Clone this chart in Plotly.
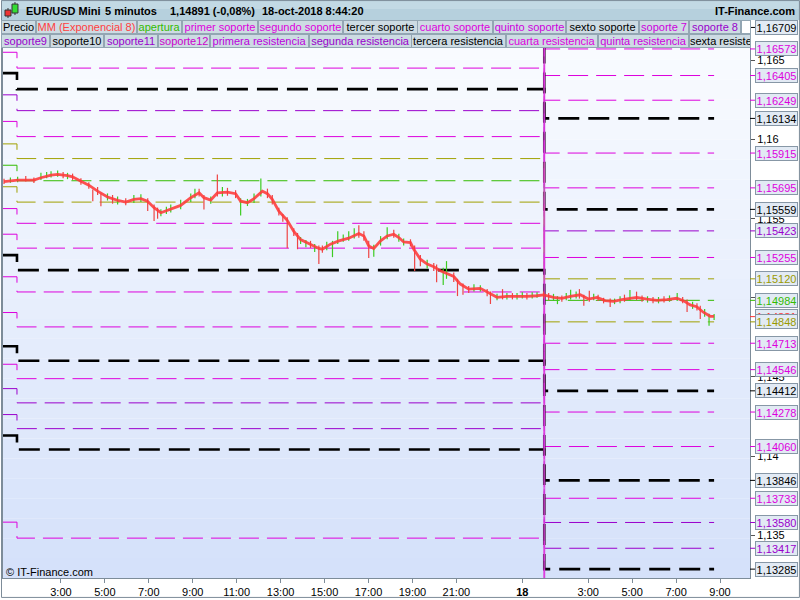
import plotly.graph_objects as go

# ------------------------------------------------------------------ data
# time axis: hours since 17-oct-2018 00:00
t_first = 0.36
t_last = 32.73
pivot_change = [1.0, 25.0]      # new daily levels start at 01:00
day_break = 25.0

level_colors = ['k', 'm', 'm', 'm', 'k', 'm', 'm', 'k', 'p', 'm', 'o', 'g',
                'o', 'm', 'm', 'k', 'm', 'm', 'k', 'm', 'p', 'p', 'k', 'm']
levels_prev = [1.17560, 1.17425, 1.17257, 1.17100, 1.16985, 1.16770, 1.16552, 1.16420,
               1.16283, 1.16115, 1.15973, 1.15838, 1.15702, 1.15564, 1.15402, 1.15270,
               1.15133, 1.14907, 1.14694, 1.14580, 1.14426, 1.14262, 1.14130, 1.13582]
levels_day1 = [1.17465, 1.17329, 1.17161, 1.17005, 1.16890, 1.16671, 1.16452, 1.16319,
               1.16183, 1.16019, 1.15880, 1.15740, 1.15605, 1.15471, 1.15314, 1.15175,
               1.15037, 1.14816, 1.14602, 1.14489, 1.14336, 1.14173, 1.14041, 1.13481]
levels_day2 = [1.16709, 1.16573, 1.16405, 1.16249, 1.16134, 1.15915, 1.15695, 1.15559,
               1.15423, 1.15255, 1.15120, 1.14984, 1.14848, 1.14713, 1.14546, 1.14412,
               1.14278, 1.14060, 1.13846, 1.13733, 1.13580, 1.13417, 1.13285, 1.13100]

ema_time = [0.41, 1.03, 1.77, 2.09, 2.55, 2.85, 3.30, 3.53, 3.91, 4.27, 4.67, 5.12, 5.58,
            5.95, 6.32, 6.64, 6.94, 7.24, 7.55, 8.00, 8.45, 8.91, 9.29, 9.51, 9.82, 10.12,
            10.58, 10.95, 11.18, 11.49, 11.79, 12.17, 12.40, 12.62, 12.92, 13.30, 13.60,
            13.91, 14.36, 14.74, 14.90, 15.27, 15.65, 16.10, 16.56, 16.79, 17.01, 17.24,
            17.55, 17.85, 18.15, 18.38, 18.60, 18.91, 19.06, 19.36, 19.67, 19.97, 20.27,
            20.58, 20.88, 21.18, 21.56, 22.09, 22.40, 22.85, 23.30, 23.76, 24.21, 24.67,
            24.97, 25.42, 25.80, 26.18, 26.64, 27.01, 27.40, 27.77, 28.15, 28.53, 28.91,
            29.21, 29.67, 30.12, 30.58, 31.03, 31.33, 31.64, 31.94, 32.24, 32.55, 32.73]
ema_value = [1.15734, 1.15744, 1.15744, 1.15759, 1.15775, 1.15780, 1.15773, 1.15765,
             1.15737, 1.15712, 1.15674, 1.15637, 1.15616, 1.15605, 1.15622, 1.15627,
             1.15611, 1.15570, 1.15538, 1.15559, 1.15584, 1.15633, 1.15664, 1.15633,
             1.15618, 1.15664, 1.15668, 1.15658, 1.15611, 1.15601, 1.15627, 1.15674,
             1.15658, 1.15622, 1.15548, 1.15490, 1.15420, 1.15368, 1.15339, 1.15312,
             1.15307, 1.15339, 1.15360, 1.15377, 1.15406, 1.15391, 1.15328, 1.15312,
             1.15360, 1.15391, 1.15402, 1.15381, 1.15353, 1.15349, 1.15307, 1.15244,
             1.15213, 1.15196, 1.15171, 1.15150, 1.15135, 1.15087, 1.15055, 1.15060,
             1.15035, 1.15003, 1.15009, 1.15007, 1.15009, 1.15013, 1.15018, 1.15003,
             1.14997, 1.15009, 1.15019, 1.14992, 1.15003, 1.14982, 1.14978, 1.14988,
             1.14997, 1.15003, 1.14992, 1.14984, 1.14988, 1.14997, 1.14982, 1.14955,
             1.14944, 1.14909, 1.14883, 1.14883]

bar_time = [0.41, 0.70, 1.03, 1.40, 1.77, 2.09, 2.35, 2.55, 2.85, 3.10, 3.30, 3.53, 3.91,
            4.27, 4.45, 4.67, 4.82, 5.12, 5.35, 5.58, 5.95, 6.32, 6.64, 6.95, 7.24, 7.40,
            7.55, 7.80, 8.00, 8.45, 8.91, 9.10, 9.29, 9.51, 9.82, 10.12, 10.35, 10.58,
            10.95, 11.18, 11.49, 11.79, 12.10, 12.40, 12.62, 12.92, 13.10, 13.30, 13.60,
            13.77, 13.91, 14.15, 14.36, 14.55, 14.74, 14.90, 15.10, 15.36, 15.60, 15.85,
            16.10, 16.35, 16.56, 16.79, 17.01, 17.24, 17.55, 17.85, 18.15, 18.38, 18.60,
            18.91, 19.10, 19.36, 19.67, 19.97, 20.10, 20.40, 20.55, 20.88, 21.05, 21.30,
            21.56, 21.80, 22.09, 22.40, 22.55, 22.85, 23.10, 23.30, 23.55, 23.76, 24.00,
            24.21, 24.45, 24.67, 24.97, 25.20, 25.42, 25.60, 25.80, 26.00, 26.20, 26.45,
            26.60, 26.80, 27.05, 27.25, 27.45, 27.70, 28.00, 28.20, 28.45, 28.65, 28.90,
            29.20, 29.45, 29.70, 29.95, 30.20, 30.45, 30.70, 31.05, 31.30, 31.50, 31.75,
            31.95, 32.10, 32.30, 32.50, 32.73]
bar_low = [1.15720, 1.15728, 1.15730, 1.15735, 1.15725, 1.15745, 1.15755, 1.15760, 1.15765,
           1.15755, 1.15750, 1.15745, 1.15715, 1.15690, 1.15610, 1.15650, 1.15578, 1.15615,
           1.15595, 1.15590, 1.15585, 1.15600, 1.15605, 1.15548, 1.15486, 1.15500, 1.15515,
           1.15530, 1.15540, 1.15560, 1.15605, 1.15630, 1.15640, 1.15559, 1.15595, 1.15640,
           1.15640, 1.15645, 1.15630, 1.15521, 1.15580, 1.15600, 1.15640, 1.15630, 1.15590,
           1.15520, 1.15480, 1.15314, 1.15390, 1.15307, 1.15340, 1.15320, 1.15315, 1.15290,
           1.15213, 1.15285, 1.15300, 1.15257, 1.15340, 1.15355, 1.15360, 1.15375, 1.15380,
           1.15360, 1.15251, 1.15260, 1.15330, 1.15370, 1.15380, 1.15355, 1.15330, 1.15325,
           1.15169, 1.15200, 1.15185, 1.15170, 1.15099, 1.15081, 1.15120, 1.15100, 1.15011,
           1.15020, 1.15030, 1.15040, 1.15040, 1.15010, 1.14961, 1.14985, 1.14990, 1.14990,
           1.14990, 1.14990, 1.14995, 1.14990, 1.14995, 1.15000, 1.14995, 1.14985, 1.14980,
           1.14960, 1.14975, 1.14985, 1.14990, 1.14995, 1.14995, 1.14950, 1.14975, 1.14985,
           1.14980, 1.14965, 1.14942, 1.14960, 1.14965, 1.14975, 1.14980, 1.14985, 1.14975,
           1.14970, 1.14965, 1.14965, 1.14970, 1.14975, 1.14980, 1.14965, 1.14911, 1.14930,
           1.14920, 1.14866, 1.14880, 1.14824, 1.14860]
bar_high = [1.15752, 1.15760, 1.15765, 1.15770, 1.15760, 1.15790, 1.15795, 1.15800, 1.15805,
            1.15795, 1.15790, 1.15785, 1.15755, 1.15730, 1.15685, 1.15700, 1.15660, 1.15660,
            1.15650, 1.15640, 1.15630, 1.15650, 1.15655, 1.15630, 1.15590, 1.15570, 1.15560,
            1.15575, 1.15590, 1.15620, 1.15660, 1.15690, 1.15690, 1.15650, 1.15640, 1.15780,
            1.15700, 1.15695, 1.15680, 1.15630, 1.15625, 1.15660, 1.15754, 1.15690, 1.15650,
            1.15570, 1.15530, 1.15510, 1.15440, 1.15410, 1.15385, 1.15365, 1.15360, 1.15340,
            1.15330, 1.15330, 1.15355, 1.15360, 1.15421, 1.15400, 1.15420, 1.15440, 1.15458,
            1.15420, 1.15360, 1.15335, 1.15390, 1.15446, 1.15430, 1.15405, 1.15375, 1.15370,
            1.15330, 1.15270, 1.15240, 1.15220, 1.15210, 1.15190, 1.15232, 1.15160, 1.15120,
            1.15090, 1.15075, 1.15085, 1.15080, 1.15055, 1.15040, 1.15025, 1.15055, 1.15030,
            1.15030, 1.15030, 1.15035, 1.15030, 1.15035, 1.15035, 1.15040, 1.15030, 1.15025,
            1.15010, 1.15015, 1.15030, 1.15051, 1.15040, 1.15055, 1.15020, 1.15045, 1.15025,
            1.15020, 1.15000, 1.14995, 1.14995, 1.15010, 1.15020, 1.15049, 1.15039, 1.15015,
            1.15010, 1.15005, 1.15005, 1.15010, 1.15015, 1.15030, 1.15005, 1.14990, 1.14975,
            1.14965, 1.14950, 1.14930, 1.14900, 1.14898]
bar_up = [0, 1, 1, 0, 0, 1, 1, 1, 1, 0, 1, 0, 0, 0, 0, 0, 0, 1, 0, 1, 0, 1, 1, 0, 0, 0, 1,
          1, 1, 1, 1, 1, 0, 0, 1, 0, 1, 0, 0, 1, 1, 1, 1, 0, 0, 0, 0, 0, 0, 0, 1, 1, 0, 1,
          0, 0, 1, 1, 1, 1, 1, 1, 0, 0, 0, 1, 1, 1, 0, 1, 1, 0, 0, 0, 1, 0, 0, 1, 1, 0, 0,
          0, 0, 1, 1, 0, 0, 1, 0, 1, 0, 1, 1, 0, 1, 1, 0, 0, 1, 1, 0, 1, 1, 1, 0, 0, 0, 1,
          0, 0, 0, 1, 1, 0, 1, 0, 0, 1, 0, 1, 0, 1, 1, 0, 0, 1, 0, 0, 1, 1, 1]

last_ema = 1.14881

x_tick_vals = [3, 5, 7, 9, 11, 13, 15, 17, 19, 21, 24, 27, 29, 31, 33]
x_tick_text = ["3:00", "5:00", "7:00", "9:00", "11:00", "13:00", "15:00", "17:00",
               "19:00", "21:00", "<b>18</b>", "3:00", "5:00", "7:00", "9:00"]
y_tick_vals = [1.135, 1.14, 1.145, 1.15, 1.155, 1.16, 1.165]
y_tick_text = ["1,135", "1,14", "1,145", "1,15", "1,155", "1,16", "1,165"]

legend_row1 = ["Precio", "MM (Exponencial 8)", "apertura", "primer soporte", "segundo soporte",
               "tercer soporte", "cuarto soporte", "quinto soporte", "sexto soporte",
               "soporte 7", "soporte 8"]
legend_row1_colors = ["#000000", "#ff4040", "#33bb00", "#dd00dd", "#dd00dd", "#000000",
                      "#dd00dd", "#cc00dd", "#000000", "#cc00dd", "#9900cc"]
legend_row2 = ["soporte9", "soporte10", "soporte11", "soporte12", "primera resistencia",
               "segunda resistencia", "tercera resistencia", "cuarta resistencia",
               "quinta resistencia", "sexta resistencia"]
legend_row2_colors = ["#9900cc", "#000000", "#9900cc", "#cc00cc", "#bb00dd", "#9900cc",
                      "#000000", "#dd00dd", "#cc00dd", "#000000"]

# ------------------------------------------------------------------ layout helpers
X0, X1, Y0, Y1 = 2, 750, 20, 580
def px(x):
    return (x - X0) / (X1 - X0)
def py(y):
    return (Y1 - y) / (Y1 - Y0)

FONT = "Liberation Sans, Arial, sans-serif"
COL = {'k': '#000000', 'm': '#dd00dd', 'p': '#9a00cc', 'o': '#a0a000', 'g': '#33bb00'}
LABEL_COL = {'k': '#000000', 'm': '#dd00dd', 'p': '#9a00cc', 'o': '#999900', 'g': '#33bb00'}
Y_RANGE = [1.13229, 1.16756]
X_RANGE = [0.3636, 34.364]

fig = go.Figure()

# gradient plot background
n = 28
for i in range(n):
    t = i / (n - 1)
    r = round(250 + (213 - 250) * t)
    g = round(252 + (225 - 252) * t)
    b = round(255 + (250 - 255) * t)
    fig.add_shape(type='rect', xref='paper', yref='paper', x0=0, x1=1,
                  y0=1 - (i + 1) / n, y1=1 - i / n, fillcolor=f'rgb({r},{g},{b})',
                  line_width=0, layer='below')

# level lines
for i, c in enumerate(level_colors):
    black = c == 'k'
    xs = [t_first, pivot_change[0], pivot_change[0], pivot_change[1], pivot_change[1], t_last]
    ys = [levels_prev[i], levels_prev[i], levels_day1[i], levels_day1[i],
          levels_day2[i], levels_day2[i]]
    fig.add_trace(go.Scatter(
        x=xs, y=ys, mode='lines', hoverinfo='skip', showlegend=False,
        line=dict(color=COL[c], width=2.6 if black else 1,
                  dash='21px,9px' if black else '20px,8px')))

# day break
fig.add_trace(go.Scatter(x=[day_break, day_break], y=Y_RANGE, mode='lines',
                         line=dict(color='#dd44dd', width=2), hoverinfo='skip',
                         showlegend=False, opacity=0.8))

# price bars
for up, col in [(1, '#3ccc22'), (0, '#ee4444')]:
    xs, ys = [], []
    for t, lo, hi, u in zip(bar_time, bar_low, bar_high, bar_up):
        if u == up:
            xs += [t, t, None]
            ys += [lo, hi, None]
    fig.add_trace(go.Scatter(x=xs, y=ys, mode='lines', line=dict(color=col, width=1.2),
                             hoverinfo='skip', showlegend=False))

# EMA
fig.add_trace(go.Scatter(x=ema_time, y=ema_value, mode='lines',
                         line=dict(color='#ff3a3a', width=2.8), opacity=0.88,
                         hoverinfo='skip', showlegend=False))

# ------------------------------------------------------------------ title bar
fig.add_shape(type='rect', xref='paper', yref='paper', x0=px(0), x1=px(800),
              y0=py(20), y1=py(0), fillcolor='#b6d0dd', line_width=0)
fig.add_shape(type='rect', xref='paper', yref='paper', x0=px(0), x1=px(800),
              y0=py(9), y1=py(0), fillcolor='#c2d9e4', line_width=0)
# icon
fig.add_shape(type='line', xref='paper', yref='paper', x0=px(7), x1=px(7), y0=py(18), y1=py(8),
              line=dict(color='#333333', width=1))
fig.add_shape(type='rect', xref='paper', yref='paper', x0=px(4), x1=px(10), y0=py(16), y1=py(10),
              fillcolor='#ee3333', line=dict(color='#333333', width=1))
fig.add_shape(type='line', xref='paper', yref='paper', x0=px(14), x1=px(14), y0=py(15), y1=py(2),
              line=dict(color='#333333', width=1))
fig.add_shape(type='rect', xref='paper', yref='paper', x0=px(11), x1=px(17), y0=py(13), y1=py(4),
              fillcolor='#33dd33', line=dict(color='#333333', width=1))

title_parts = [("EUR/USD Mini", 23), ("5 minutos", 102), ("1,14891 (-0,08%)", 167),
               ("18-oct-2018 8:44:20", 259)]
for txt, x in title_parts:
    fig.add_annotation(xref='paper', yref='paper', x=px(x), y=py(11), xanchor='left',
                       yanchor='middle', text=f"<b>{txt}</b>", showarrow=False,
                       font=dict(family=FONT, size=11, color='#000000'))
fig.add_annotation(xref='paper', yref='paper', x=px(797), y=py(11), xanchor='right',
                   yanchor='middle', text="<b>IT-Finance.com</b>", showarrow=False,
                   font=dict(family=FONT, size=11, color='#000000'))

# ------------------------------------------------------------------ legend rows
row1_x = [0, 35, 136, 181, 257, 342, 417, 493, 566, 639, 689, 741]
row2_x = [0, 49, 103, 157, 209, 308, 411, 506, 598, 689, 751]
def legend_box(x0, x1, ytop, ybot, text, color, align='center'):
    fig.add_annotation(xref='paper', yref='paper', x=px(x0), y=py(ytop), xanchor='left',
                       yanchor='top', text=text, showarrow=False, width=x1 - x0 - 2,
                       height=ybot - ytop - 2, bgcolor='#cddbe3', bordercolor='#93a6b3',
                       borderwidth=1, borderpad=0, align=align, valign='middle',
                       font=dict(family=FONT, size=11, color=color))
for i, (txt, col) in enumerate(zip(legend_row1, legend_row1_colors)):
    legend_box(row1_x[i], row1_x[i + 1], 20, 34, txt, col)
fig.add_annotation(xref='paper', yref='paper', x=px(741), y=py(20), xanchor='left',
                   yanchor='top', text=" ", showarrow=False, width=8, height=12,
                   bgcolor='#ffffff', bordercolor='#93a6b3', borderwidth=1, borderpad=0)
for i, (txt, col) in enumerate(zip(legend_row2, legend_row2_colors)):
    legend_box(row2_x[i], row2_x[i + 1], 34, 48, txt, col,
               align='left' if i == len(legend_row2) - 1 else 'center')

# ------------------------------------------------------------------ right labels
def fmt(v):
    return f"{v:.5f}".replace('.', ',')

def right_label(v, color):
    fig.add_shape(type='line', xref='paper', yref='y', x0=px(750), x1=px(755), y0=v, y1=v,
                  line=dict(color=color, width=1))
    fig.add_annotation(xref='paper', yref='y', x=px(755), y=v, xanchor='left',
                       yanchor='middle', text=fmt(v), showarrow=False, width=41, height=13,
                       bgcolor='#e2eaf4', bordercolor='#8797a6', borderwidth=1, borderpad=0,
                       font=dict(family=FONT, size=11, color=color))

right_label(last_ema, '#ff3333')
for v, c in zip(levels_day2, level_colors):
    if Y_RANGE[0] < v < Y_RANGE[1]:
        right_label(v, LABEL_COL[c])

# copyright
fig.add_annotation(xref='paper', yref='paper', x=px(3), y=py(574), xanchor='left',
                   yanchor='middle', text="© IT-Finance.com", showarrow=False,
                   font=dict(family=FONT, size=11, color='#000000'))

# outer border
fig.add_shape(type='rect', xref='paper', yref='paper', x0=px(0.5), x1=px(799.5),
              y0=py(599.5), y1=py(0.5), line=dict(color='#7d8c99', width=1))

fig.update_layout(
    width=800, height=600, autosize=False,
    margin=dict(l=2, r=50, t=20, b=20),
    paper_bgcolor='#ffffff', plot_bgcolor='#ffffff',
    showlegend=False,
    xaxis=dict(range=X_RANGE, showgrid=False, zeroline=False, showline=True,
               linecolor='#7d8c99', mirror=True, ticks='outside', ticklen=4,
               tickcolor='#7d8c99', tickvals=x_tick_vals, ticktext=x_tick_text,
               tickfont=dict(family=FONT, size=11, color='#000000')),
    yaxis=dict(range=Y_RANGE, side='right', showgrid=False, zeroline=False, showline=True,
               linecolor='#7d8c99', mirror=True, ticks='outside', ticklen=4,
               tickcolor='#555555', tickvals=y_tick_vals, ticktext=y_tick_text,
               tickfont=dict(family=FONT, size=11, color='#000000')),
)

fig.write_html("out.html", config={'displayModeBar': False},
               post_script="document.body.style.margin='0';document.body.style.overflow='hidden';")
